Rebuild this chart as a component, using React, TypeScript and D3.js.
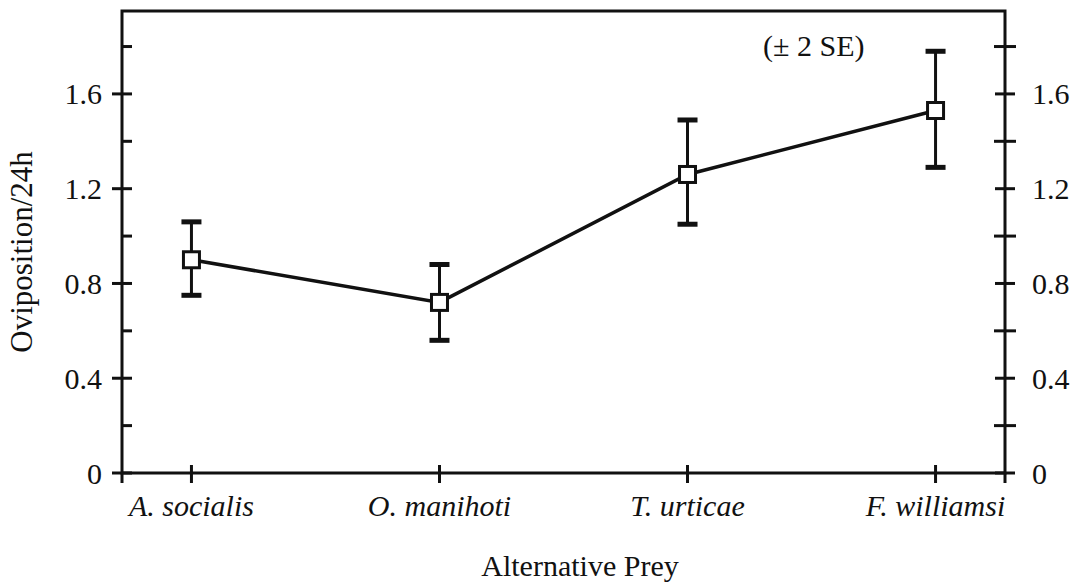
import React, { useRef, useEffect } from "react";
import * as d3 from "d3";

const preyNames = ["A. socialis", "O. manihoti", "T. urticae", "F. williamsi"];
const oviposition = [0.9, 0.72, 1.26, 1.53];
const upperSE = [1.06, 0.88, 1.49, 1.78];
const lowerSE = [0.75, 0.56, 1.05, 1.29];
const majorTicks = [0, 0.4, 0.8, 1.2, 1.6];
const minorTicks = [0.2, 0.6, 1.0, 1.4, 1.8];

const W = 1078;
const H = 587;

const App: React.FC = () => {
  const svgRef = useRef<SVGSVGElement>(null);

  useEffect(() => {
    if (!svgRef.current) return;
    const svg = d3.select(svgRef.current);
    svg.selectAll("*").remove();

    const left = 122;
    const right = 1005;
    const top = 11;
    const bottom = 473;
    const font = "'Liberation Serif', 'Times New Roman', serif";

    const x = d3.scalePoint<string>().domain(preyNames).range([left, right]).padding(0.28);
    const y = d3.scaleLinear().domain([0, 1.95]).range([bottom, top]);

    // frame
    svg
      .append("path")
      .attr("d", `M${left},${bottom}V${top}H${right}V${bottom}Z`)
      .attr("fill", "none")
      .attr("stroke", "#111")
      .attr("stroke-width", 3);

    const ticks = svg.append("g").attr("stroke", "#111").attr("stroke-width", 3);
    // left axis: major ticks cross, minor ticks inside
    majorTicks.forEach((t) => {
      ticks.append("line").attr("x1", left - 10).attr("x2", left + 10).attr("y1", y(t)).attr("y2", y(t));
      ticks.append("line").attr("x1", right - 10).attr("x2", right + 10).attr("y1", y(t)).attr("y2", y(t));
    });
    minorTicks.forEach((t) => {
      ticks.append("line").attr("x1", left).attr("x2", left + 10).attr("y1", y(t)).attr("y2", y(t));
      ticks.append("line").attr("x1", right - 11).attr("x2", right + 11).attr("y1", y(t)).attr("y2", y(t));
    });
    // axis extensions at the corners
    ticks.append("line").attr("x1", left).attr("x2", left).attr("y1", bottom).attr("y2", bottom + 10);
    ticks.append("line").attr("x1", right).attr("x2", right).attr("y1", bottom).attr("y2", bottom + 10);
    preyNames.forEach((p) => {
      ticks
        .append("line")
        .attr("x1", x(p)!)
        .attr("x2", x(p)!)
        .attr("y1", bottom - 8)
        .attr("y2", bottom + 10);
    });

    const fmt = (t: number) => (t === 0 ? "0" : d3.format(".1f")(t));
    svg
      .append("g")
      .selectAll("text")
      .data(majorTicks)
      .enter()
      .append("text")
      .attr("x", left - 20)
      .attr("y", (d) => y(d))
      .attr("dy", "0.35em")
      .attr("text-anchor", "end")
      .attr("font-family", font)
      .attr("font-size", 30)
      .attr("fill", "#111")
      .text(fmt);
    svg
      .append("g")
      .selectAll("text")
      .data(majorTicks)
      .enter()
      .append("text")
      .attr("x", right + 27)
      .attr("y", (d) => y(d))
      .attr("dy", "0.35em")
      .attr("text-anchor", "start")
      .attr("font-family", font)
      .attr("font-size", 30)
      .attr("fill", "#111")
      .text(fmt);

    svg
      .append("g")
      .selectAll("text")
      .data(preyNames)
      .enter()
      .append("text")
      .attr("x", (d) => x(d)!)
      .attr("y", 516)
      .attr("text-anchor", "middle")
      .attr("font-family", font)
      .attr("font-style", "italic")
      .attr("font-size", 30)
      .attr("fill", "#111")
      .text((d) => d);

    svg
      .append("text")
      .attr("x", 580)
      .attr("y", 576)
      .attr("text-anchor", "middle")
      .attr("font-family", font)
      .attr("font-size", 30)
      .attr("fill", "#111")
      .text("Alternative Prey");

    svg
      .append("text")
      .attr("transform", `translate(32,252) rotate(-90)`)
      .attr("text-anchor", "middle")
      .attr("font-family", font)
      .attr("font-size", 31)
      .attr("fill", "#111")
      .text("Oviposition/24h");

    svg
      .append("text")
      .attr("x", 763)
      .attr("y", 56)
      .attr("font-family", font)
      .attr("font-size", 30)
      .attr("fill", "#111")
      .text("(\u00b1 2 SE)");

    // error bars
    const bars = svg.append("g").attr("stroke", "#111");
    preyNames.forEach((p, i) => {
      const cx = x(p)!;
      bars.append("line").attr("x1", cx).attr("x2", cx).attr("y1", y(upperSE[i])).attr("y2", y(lowerSE[i])).attr("stroke-width", 3);
      [upperSE[i], lowerSE[i]].forEach((v) => {
        bars.append("line").attr("x1", cx - 10).attr("x2", cx + 10).attr("y1", y(v)).attr("y2", y(v)).attr("stroke-width", 5);
      });
    });

    const line = d3
      .line<number>()
      .x((_, i) => x(preyNames[i])!)
      .y((d) => y(d));
    svg
      .append("path")
      .attr("d", line(oviposition))
      .attr("fill", "none")
      .attr("stroke", "#111")
      .attr("stroke-width", 3.5);

    svg
      .append("g")
      .selectAll("rect")
      .data(oviposition)
      .enter()
      .append("rect")
      .attr("x", (_, i) => x(preyNames[i])! - 8)
      .attr("y", (d) => y(d) - 8)
      .attr("width", 16)
      .attr("height", 16)
      .attr("fill", "#fff")
      .attr("stroke", "#111")
      .attr("stroke-width", 3);
  }, []);

  return (
    <svg
      ref={svgRef}
      width={W}
      height={H}
      style={{ position: "absolute", left: 0, top: 0, background: "#fff" }}
    ></svg>
  );
};

export default App;
